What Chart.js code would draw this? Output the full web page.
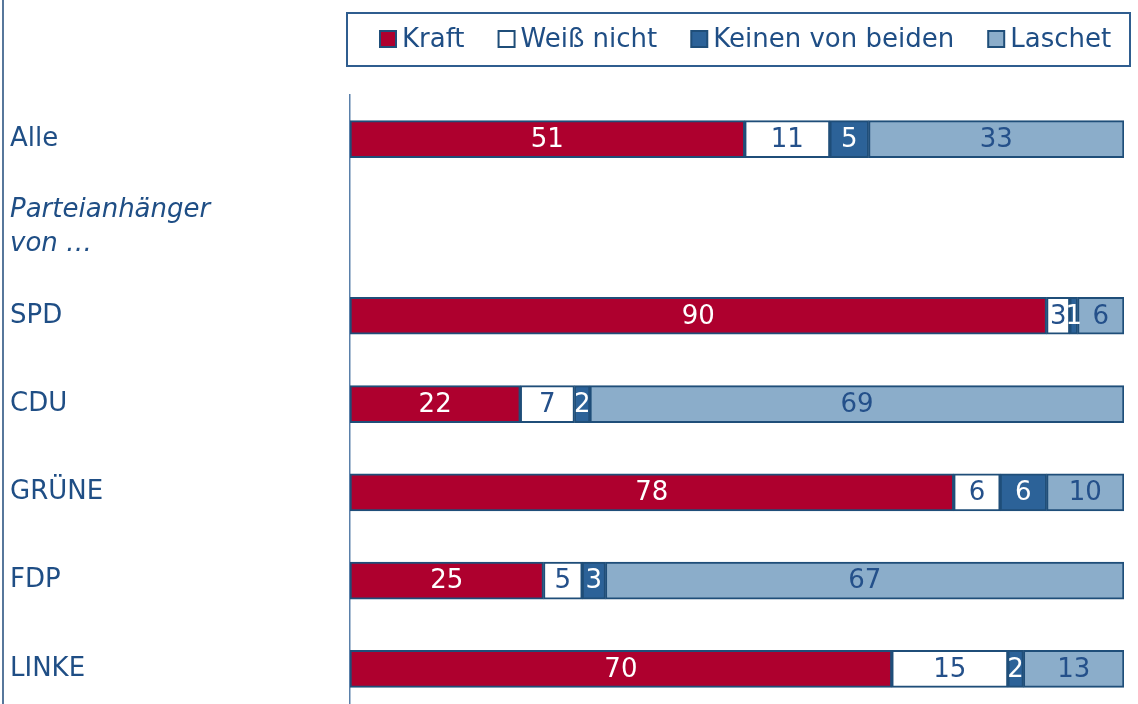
<!DOCTYPE html>
<html>
<head>
<meta charset="utf-8">
<script src="https://cdn.jsdelivr.net/npm/chart.js@4/dist/chart.umd.min.js"></script>
<style>
  html, body { margin: 0; padding: 0; background: #fff; overflow: hidden; }
  canvas { display: block; }
</style>
</head>
<body>
<canvas id="kChart" width="1138" height="730"></canvas>
<script>
// rows (second row is only a heading, no bar)
const categories = ['Alle', ['Parteianhänger', 'von …'], 'SPD', 'CDU', 'GRÜNE', 'FDP', 'LINKE'];
const seriesNames = ['Kraft', 'Weiß nicht', 'Keinen von beiden', 'Laschet'];
const kraft = [51, null, 90, 22, 78, 25, 70];
const weissNicht = [11, null, 3, 7, 6, 5, 15];
const keinen = [5, null, 1, 2, 6, 3, 2];
const laschet = [33, null, 6, 69, 10, 67, 13];

const FONT = '"DejaVu Sans", Verdana, sans-serif';
const DARK = '#1f4e85';
const fills = ['#ae002e', '#ffffff', '#2c6298', '#8badca'];
const labelColors = ['#ffffff', '#24508a', '#ffffff', '#24508a'];

// left frame line
const framePlugin = {
    id: 'frame',
    beforeDraw(chart) {
        const ctx = chart.ctx;
        ctx.save();
        ctx.strokeStyle = '#1f4a7a';
        ctx.lineWidth = 1.5;
        ctx.beginPath();
        ctx.moveTo(3, 0);
        ctx.lineTo(3, chart.height);
        ctx.stroke();
        ctx.restore();
    }
};

// numbers inside the bar segments
const valueLabels = {
    id: 'valueLabels',
    afterDatasetsDraw(chart) {
        const ctx = chart.ctx;
        ctx.save();
        ctx.font = '26px ' + FONT;
        ctx.textAlign = 'center';
        ctx.textBaseline = 'middle';
        chart.data.datasets.forEach((ds, di) => {
            const meta = chart.getDatasetMeta(di);
            meta.data.forEach((el, i) => {
                const v = ds.data[i];
                if (v === null || v === undefined) return;
                ctx.fillStyle = labelColors[di];
                ctx.fillText(String(v), (el.x + el.base) / 2, el.y + 1);
            });
        });
        ctx.restore();
    }
};

// boxed legend at the top
const boxLegend = {
    id: 'boxLegend',
    afterDraw(chart) {
        const ctx = chart.ctx;
        ctx.save();
        ctx.strokeStyle = '#2f5d8f';
        ctx.lineWidth = 2;
        ctx.strokeRect(347, 13, 783, 53);
        ctx.font = '26px ' + FONT;
        ctx.textBaseline = 'middle';
        ctx.textAlign = 'left';
        let x = 380;
        const y = 39;
        chart.data.datasets.forEach((ds, di) => {
            ctx.fillStyle = fills[di];
            ctx.fillRect(x, y - 8, 16, 16);
            ctx.strokeStyle = '#1f4e79';
            ctx.lineWidth = 2;
            ctx.strokeRect(x, y - 8, 16, 16);
            ctx.fillStyle = DARK;
            ctx.fillText(ds.label, x + 22, y + 1);
            x += 22 + ctx.measureText(ds.label).width + 34;
        });
        ctx.restore();
    }
};

const seriesData = [kraft, weissNicht, keinen, laschet];

new Chart(document.getElementById('kChart').getContext('2d'), {
    type: 'bar',
    data: {
        labels: categories,
        datasets: seriesData.map((d, i) => ({
            label: seriesNames[i],
            data: d,
            backgroundColor: fills[i],
            borderColor: '#1f4e79',
            borderWidth: 2,
            borderSkipped: false,
            barThickness: 37,
        })),
    },
    options: {
        indexAxis: 'y',
        responsive: false,
        animation: false,
        layout: { padding: { top: 95, bottom: 5, left: 10, right: 14 } },
        plugins: {
            legend: { display: false },
            tooltip: { enabled: false },
        },
        scales: {
            x: {
                stacked: true,
                min: 0,
                max: 100,
                display: false,
            },
            y: {
                stacked: true,
                grid: { display: false },
                border: { display: true, color: '#5a80aa', width: 1.5 },
                afterFit(scale) { scale.width = 340; },
                ticks: {
                    crossAlign: 'far',
                    color: DARK,
                    padding: 0,
                    font: (c) => ({
                        family: FONT,
                        size: 26,
                        style: c.index === 1 ? 'italic' : 'normal',
                        lineHeight: 1.3,
                    }),
                },
            },
        },
    },
    plugins: [framePlugin, valueLabels, boxLegend],
});
</script>
</body>
</html>
